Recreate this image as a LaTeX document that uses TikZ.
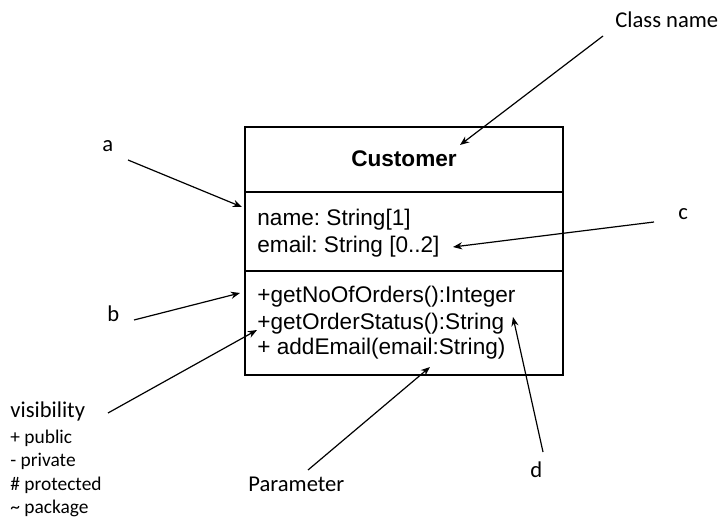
\documentclass[tikz,border=0pt]{standalone}
\usepackage{fontspec}
\setmainfont{Liberation Sans}
\newfontfamily\notefont{Carlito}
\frenchspacing
\usetikzlibrary{arrows.meta, positioning}

\tikzset{
  compart/.style={minimum width=159pt, inner sep=0pt, outer sep=0pt, anchor=north west},
  boxline/.style={line width=0.75pt},
  member/.style={anchor=base west, inner sep=0pt, font=\fontsize{11.3}{13.5}\selectfont},
  note/.style={anchor=base west, inner sep=0pt, font=\notefont\fontsize{11.3}{13.5}\selectfont},
  small note/.style={anchor=base west, inner sep=0pt, font=\notefont\fontsize{9.7}{11.7}\selectfont},
  pointer/.style={line width=0.6pt, -{Stealth[length=4.6pt, width=3.6pt]}}
}

\begin{document}
\begin{tikzpicture}[x=0.5pt, y=-0.5pt]
    \useasboundingbox (0,0) rectangle (721,517);
    % class box, three compartments
    \node[compart, minimum height=32.5pt] (namebox) at (245,127) {};
    \node[compart, minimum height=39.5pt] (attrbox) at (namebox.south west) {};
    \node[compart, minimum height=52pt] (opbox) at (attrbox.south west) {};
    \draw[boxline] (namebox.north west) rectangle (opbox.south east);
    \draw[boxline] (attrbox.north west) -- (attrbox.north east);
    \draw[boxline] (opbox.north west) -- (opbox.north east);

    \node[member, anchor=base, font=\bfseries\fontsize{11.3}{13.5}\selectfont] (cname) at (404,167) {Customer};
    \node[member] (attr1) at (257,226) {name: String[1]};
    \node[member] (attr2) at (257,253) {email: String [0..2]};
    \node[member] (op1) at (257,303) {+getNoOfOrders():Integer};
    \node[member] (op2) at (257,329) {+getOrderStatus():String};
    \node[member] (op3) at (257,355) {+ addEmail(email:String)};

    % labels
    \node[note] (lbl-class) at (615,28) {Class name};
    \node[note] (lbl-a) at (102,152) {a};
    \node[note] (lbl-b) at (107,322) {b};
    \node[note] (lbl-c) at (678,220) {c};
    \node[note] (lbl-d) at (530,477) {d};
    \node[note] (lbl-param) at (248,491) {Parameter};
    \node[note] (lbl-vis) at (10,417) {visibility};
    \node[small note] (vis-pub) at (10,443) {+ public};
    \node[small note] (vis-priv) at (10,466) {- private};
    \node[small note] (vis-prot) at (10,490) {\# protected};
    \node[small note] (vis-pack) at (10,513) {\textasciitilde{} package};

    % arrow ends
    \coordinate (class-tail) at (603,36);  \coordinate (class-tip) at (460,145);
    \coordinate (a-tail) at (128,160);     \coordinate (a-tip) at (242,207);
    \coordinate (b-tail) at (134,320);     \coordinate (b-tip) at (240,293);
    \coordinate (vis-tail) at (108,413);   \coordinate (vis-tip) at (257,330);
    \coordinate (c-tail) at (654,222);     \coordinate (c-tip) at (453,247);
    \coordinate (d-tail) at (543,452);     \coordinate (d-tip) at (513,317);
    \coordinate (param-tail) at (308,470); \coordinate (param-tip) at (430,367);

    \draw[pointer] (class-tail) -- (class-tip);
    \draw[pointer] (a-tail) -- (a-tip);
    \draw[pointer] (b-tail) -- (b-tip);
    \draw[pointer] (vis-tail) -- (vis-tip);
    \draw[pointer] (c-tail) -- (c-tip);
    \draw[pointer] (d-tail) -- (d-tip);
    \draw[pointer] (param-tail) -- (param-tip);
\end{tikzpicture}
\end{document}
